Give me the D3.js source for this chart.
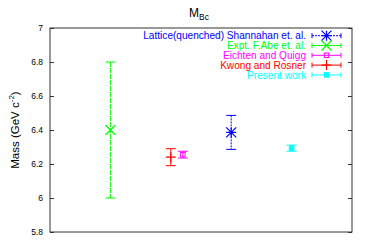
<!DOCTYPE html>
<html>
<head>
<meta charset="utf-8">
<script src="https://cdn.jsdelivr.net/npm/d3@7"></script>
<style>
body { margin: 0; background: #fff; }
svg { font-family: "Liberation Sans", Arial, sans-serif; }
</style>
</head>
<body>
<div id="chart"></div>
<script>
// data
var names = ["Lattice(quenched) Shannahan et. al.", "Expt. F.Abe et. al.", "Eichten and Quigg", "Kwong and Rosner", "Present work"];
var xPos = [3, 1, 2.2, 2, 4];
var mass = [6.386, 6.40, 6.255, 6.24, 6.293];
var errs = [0.1, 0.4, 0.02, 0.05, 0.018];
var colors = ["#0000ff", "#00ff00", "#ff00ff", "#ff0000", "#00ffff"];
var marks = ["star", "cross", "box", "plus", "fbox"];
var dashes = ["2,1", "5,1", null, null, "1,1"];
var yTicks = [5.8, 6, 6.2, 6.4, 6.6, 6.8, 7];

var margin = {top: 28, right: 30, bottom: 13, left: 50},
	width = 382,
	height = 245;

var svg = d3.select("#chart").append("svg")
	.attr("width", width)
	.attr("height", height);

var x = d3.scaleLinear().domain([0, 5]).range([margin.left, width - margin.right]);
var y = d3.scaleLinear().domain([5.8, 7]).range([height - margin.bottom, margin.top]);

// frame
svg.append("rect")
	.attr("x", x(0)).attr("y", y(7))
	.attr("width", x(5) - x(0)).attr("height", y(5.8) - y(7))
	.attr("fill", "none").attr("stroke", "#333").attr("stroke-width", 1);

// y axis left + mirrored ticks on right
var yAxis = svg.append("g")
	.attr("transform", "translate(" + x(0) + ",0)")
	.call(d3.axisLeft(y).tickValues(yTicks).tickSize(-4).tickPadding(7).tickFormat(d3.format("~g")));
yAxis.select(".domain").remove();
yAxis.selectAll("line").attr("stroke", "#333");
yAxis.selectAll("text").attr("font-size", 8.5).attr("fill", "#000");

var yRight = svg.append("g")
	.attr("transform", "translate(" + x(5) + ",0)")
	.call(d3.axisRight(y).tickValues(yTicks).tickSize(-4).tickFormat(""));
yRight.select(".domain").remove();
yRight.selectAll("line").attr("stroke", "#333");

// title
var title = svg.append("text")
	.attr("x", 199).attr("y", 17)
	.attr("text-anchor", "middle")
	.attr("font-size", 12);
title.append("tspan").text("M");
title.append("tspan").attr("font-size", 8.5).attr("dy", 3).text("Bc");

// y label
var ylab = svg.append("text")
	.attr("transform", "translate(19," + ((y(7) + y(5.8)) / 2) + ") rotate(-90)")
	.attr("text-anchor", "middle")
	.attr("font-size", 11.5);
ylab.append("tspan").text("Mass (GeV c");
ylab.append("tspan").attr("font-size", 8).attr("dy", -5).text("-2");
ylab.append("tspan").attr("dy", 5).text(")");

function drawMark(g, type, cx, cy, color, s) {
	var p = "";
	if (type == "star" || type == "cross")
		p += "M" + (cx - s) + "," + (cy - s) + "L" + (cx + s) + "," + (cy + s) +
			"M" + (cx - s) + "," + (cy + s) + "L" + (cx + s) + "," + (cy - s);
	if (type == "star" || type == "plus")
		p += "M" + (cx - s) + "," + cy + "L" + (cx + s) + "," + cy +
			"M" + cx + "," + (cy - s) + "L" + cx + "," + (cy + s);
	if (type == "box" || type == "fbox") {
		var b = s * 0.45;
		g.append("rect").attr("x", cx - b).attr("y", cy - b)
			.attr("width", 2 * b).attr("height", 2 * b)
			.attr("fill", type == "fbox" ? color : "none")
			.attr("stroke", color).attr("stroke-width", 1);
		return;
	}
	g.append("path").attr("d", p).attr("stroke", color).attr("stroke-width", 1.2).attr("fill", "none");
}

// error bars
var cap = 5;
names.forEach(function (n, i) {
	var g = svg.append("g");
	var cx = x(xPos[i]);
	var c = colors[i];
	g.append("line")
		.attr("x1", cx).attr("x2", cx)
		.attr("y1", y(mass[i] + errs[i])).attr("y2", y(mass[i] - errs[i]))
		.attr("stroke", c).attr("stroke-width", 1)
		.attr("stroke-dasharray", dashes[i]);
	[mass[i] + errs[i], mass[i] - errs[i]].forEach(function (v) {
		g.append("line")
			.attr("x1", cx - cap).attr("x2", cx + cap)
			.attr("y1", y(v)).attr("y2", y(v))
			.attr("stroke", c).attr("stroke-width", 1);
	});
	drawMark(g, marks[i], cx, y(mass[i]), c, 5);
});

// legend
var leg = svg.append("g");
names.forEach(function (n, i) {
	var ly = 35.7 + i * 9.8;
	var c = colors[i];
	leg.append("text")
		.attr("x", 306).attr("y", ly + 3.7)
		.attr("text-anchor", "end")
		.attr("font-size", 10.1)
		.attr("fill", c)
		.text(n);
	leg.append("line")
		.attr("x1", 312).attr("x2", 341).attr("y1", ly).attr("y2", ly)
		.attr("stroke", c).attr("stroke-dasharray", dashes[i]);
	[312, 341].forEach(function (lx) {
		leg.append("line").attr("x1", lx).attr("x2", lx)
			.attr("y1", ly - 2.5).attr("y2", ly + 2.5).attr("stroke", c);
	});
	drawMark(leg, marks[i], 326.5, ly, c, 5);
});
</script>
</body>
</html>
